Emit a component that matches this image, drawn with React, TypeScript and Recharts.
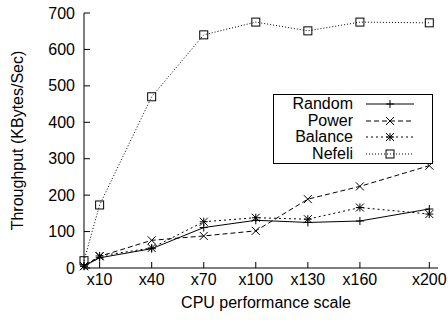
import React from 'react'
import { LineChart, Line, XAxis, YAxis, Legend } from 'recharts'

// CPU scale factors (x axis) and throughput per scheduler, KBytes/Sec
const scales = [1, 10, 40, 70, 100, 130, 160, 200]
const random = [5, 28, 53, 111, 131, 125, 129, 162]
const power = [5, 32, 76, 88, 102, 189, 224, 281]
const balance = [5, 33, 55, 127, 138, 134, 166, 148]
const nefeli = [20, 173, 470, 640, 675, 651, 675, 673]

const xTicks = [10, 40, 70, 100, 130, 160, 200]
const yTicks = [0, 100, 200, 300, 400, 500, 600, 700]

const data = scales.map((s, i) => ({
  scale: s,
  Random: random[i],
  Power: power[i],
  Balance: balance[i],
  Nefeli: nefeli[i],
}))

const FONT = '"Liberation Sans", Arial, Helvetica, sans-serif'

type MarkerType = 'plus' | 'cross' | 'star' | 'box'

const series: { key: string; dash?: string; marker: MarkerType }[] = [
  { key: 'Random', marker: 'plus' },
  { key: 'Power', dash: '5 3', marker: 'cross' },
  { key: 'Balance', dash: '2 3', marker: 'star' },
  { key: 'Nefeli', dash: '1 2', marker: 'box' },
]

const Marker = ({ type, cx, cy }: { type: MarkerType; cx: number; cy: number }) => {
  const r = 4
  if (cx == null || cy == null) return null
  const plus = (
    <>
      <line x1={cx - r} y1={cy} x2={cx + r} y2={cy} />
      <line x1={cx} y1={cy - r} x2={cx} y2={cy + r} />
    </>
  )
  const cross = (
    <>
      <line x1={cx - r} y1={cy - r} x2={cx + r} y2={cy + r} />
      <line x1={cx - r} y1={cy + r} x2={cx + r} y2={cy - r} />
    </>
  )
  return (
    <g stroke="#000" strokeWidth={1} fill="none">
      {type === 'plus' && plus}
      {type === 'cross' && cross}
      {type === 'star' && (
        <>
          {plus}
          {cross}
        </>
      )}
      {type === 'box' && <rect x={cx - r} y={cy - r} width={r * 2} height={r * 2} />}
    </g>
  )
}

const BottomTick = ({ x, y, payload }: any) => (
  <g>
    <line x1={x} y1={y} x2={x} y2={y - 6} stroke="#000" />
    <text x={x} y={y + 17} textAnchor="middle" fontSize={16} fontFamily={FONT} fill="#000">
      x{payload.value}
    </text>
  </g>
)

const TopTick = ({ x, y }: any) => <line x1={x} y1={y} x2={x} y2={y + 6} stroke="#000" />

const LeftTick = ({ x, y, payload }: any) => (
  <g>
    <line x1={x} y1={y} x2={x + 6} y2={y} stroke="#000" />
    <text x={x - 9} y={y + 5.5} textAnchor="end" fontSize={16} fontFamily={FONT} fill="#000">
      {payload.value}
    </text>
  </g>
)

const RightTick = ({ x, y }: any) => <line x1={x} y1={y} x2={x - 6} y2={y} stroke="#000" />

const LegendBox = () => (
  <div
    style={{
      border: '1px solid #000',
      background: '#fff',
      width: 158,
      padding: '1px 0',
      fontFamily: FONT,
      fontSize: 16,
      color: '#000',
    }}
  >
    {series.map(s => (
      <div key={s.key} style={{ display: 'flex', alignItems: 'center', height: 16.5, lineHeight: '16.5px' }}>
        <span style={{ width: 79, textAlign: 'right' }}>{s.key}</span>
        <svg width={48} height={16} style={{ marginLeft: 13 }}>
          <line x1={0} y1={8} x2={48} y2={8} stroke="#000" strokeDasharray={s.dash} />
          <Marker type={s.marker} cx={24} cy={8} />
        </svg>
      </div>
    ))}
  </div>
)

export default function App() {
  return (
    <div style={{ position: 'absolute', left: 0, top: 0, width: 448, height: 320, background: '#fff' }}>
      <LineChart width={448} height={320} data={data} margin={{ top: 13, right: 10, bottom: 0, left: 0 }}>
        <XAxis
          dataKey="scale"
          type="number"
          domain={[1, 205]}
          ticks={xTicks}
          interval={0}
          height={52}
          tickSize={0}
          tickMargin={0}
          tickLine={false}
          axisLine={{ stroke: '#000' }}
          tick={BottomTick}
          label={(props: any) => {
            const vb = props.viewBox
            return (
              <text x={vb.x + vb.width / 2 + 5} y={vb.y + 40} textAnchor="middle" fontSize={16} fontFamily={FONT} fill="#000">
                CPU performance scale
              </text>
            )
          }}
        />
        <XAxis
          xAxisId="top"
          orientation="top"
          dataKey="scale"
          type="number"
          domain={[1, 205]}
          ticks={xTicks}
          interval={0}
          height={0}
          tickSize={0}
          tickMargin={0}
          tickLine={false}
          axisLine={{ stroke: '#000' }}
          tick={TopTick}
        />
        <YAxis
          type="number"
          domain={[0, 700]}
          ticks={yTicks}
          interval={0}
          width={84}
          tickSize={0}
          tickMargin={0}
          tickLine={false}
          axisLine={{ stroke: '#000' }}
          tick={LeftTick}
          label={(props: any) => {
            const vb = props.viewBox
            const cx = 17
            const cy = vb.y + vb.height / 2
            return (
              <text
                x={cx}
                y={cy}
                textAnchor="middle"
                dominantBaseline="central"
                transform={`rotate(-90 ${cx} ${cy})`}
                fontSize={16}
                fontFamily={FONT}
                fill="#000"
              >
                Throughput (KBytes/Sec)
              </text>
            )
          }}
        />
        <YAxis
          yAxisId="right"
          orientation="right"
          type="number"
          domain={[0, 700]}
          ticks={yTicks}
          interval={0}
          width={0}
          tickSize={0}
          tickMargin={0}
          tickLine={false}
          axisLine={{ stroke: '#000' }}
          tick={RightTick}
        />
        <Legend
          layout="vertical"
          align="center"
          verticalAlign="middle"
          content={LegendBox}
          wrapperStyle={{ left: 273, top: 94, width: 'auto', height: 'auto' }}
        />
        {series.map(s => (
          <Line
            key={s.key}
            dataKey={s.key}
            type="linear"
            stroke="#000"
            strokeWidth={1}
            strokeDasharray={s.dash}
            isAnimationActive={false}
            dot={(p: any) => <Marker key={`${s.key}-${p.index}`} type={s.marker} cx={p.cx} cy={p.cy} />}
            activeDot={false}
          />
        ))}
      </LineChart>
    </div>
  )
}
